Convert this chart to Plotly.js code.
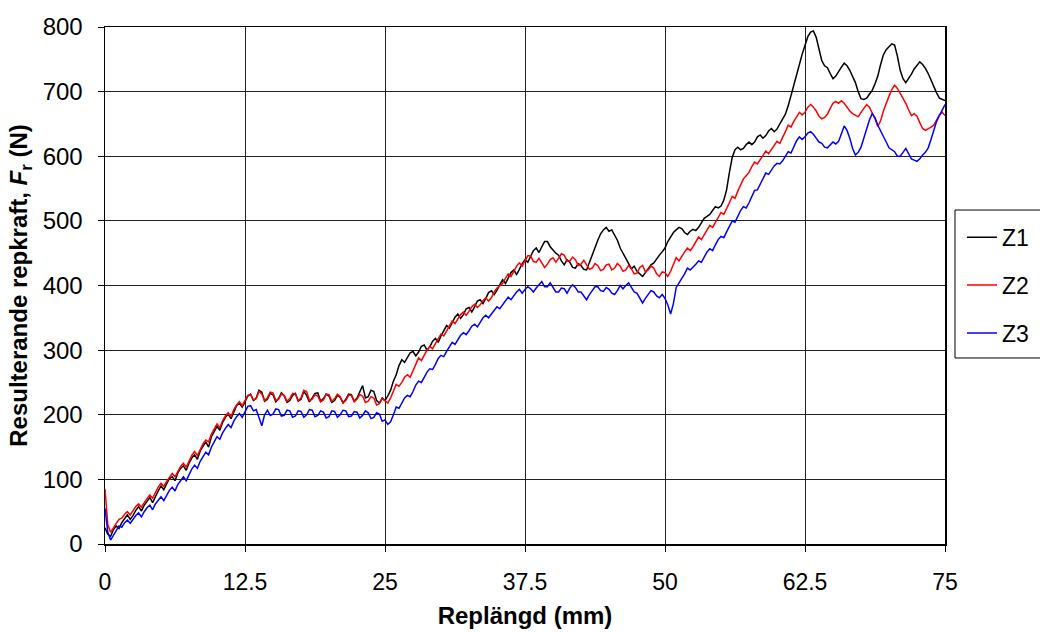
<!DOCTYPE html>
<html>
<head>
<meta charset="utf-8">
<script src="https://cdn.plot.ly/plotly-3.0.1.min.js"></script>
<style>html,body{margin:0;padding:0;background:#fff;}#chart{width:1040px;height:633px;}</style>
</head>
<body>
<div id="chart"></div>
<script>
// Replängd (mm), sample positions
const replangd = [
0,0.25,0.5,0.75,1,1.25,1.5,1.75,2,2.25,2.5,2.75,3,3.25,3.5,3.75,4,4.25,4.5,4.75,
5,5.25,5.5,5.75,6,6.25,6.5,6.75,7,7.25,7.5,7.75,8,8.25,8.5,8.75,9,9.25,9.5,9.75,
10,10.25,10.5,10.75,11,11.25,11.5,11.75,12,12.25,12.5,12.75,13,13.25,13.5,13.75,14,14.25,14.5,14.75,
15,15.25,15.5,15.75,16,16.25,16.5,16.75,17,17.25,17.5,17.75,18,18.25,18.5,18.75,19,19.25,19.5,19.75,
20,20.25,20.5,20.75,21,21.25,21.5,21.75,22,22.25,22.5,22.75,23,23.25,23.5,23.75,24,24.25,24.5,24.75,
25,25.25,25.5,25.75,26,26.25,26.5,26.75,27,27.25,27.5,27.75,28,28.25,28.5,28.75,29,29.25,29.5,29.75,
30,30.25,30.5,30.75,31,31.25,31.5,31.75,32,32.25,32.5,32.75,33,33.25,33.5,33.75,34,34.25,34.5,34.75,
35,35.25,35.5,35.75,36,36.25,36.5,36.75,37,37.25,37.5,37.75,38,38.25,38.5,38.75,39,39.25,39.5,39.75,
40,40.25,40.5,40.75,41,41.25,41.5,41.75,42,42.25,42.5,42.75,43,43.25,43.5,43.75,44,44.25,44.5,44.75,
45,45.25,45.5,45.75,46,46.25,46.5,46.75,47,47.25,47.5,47.75,48,48.25,48.5,48.75,49,49.25,49.5,49.75,
50,50.25,50.5,50.75,51,51.25,51.5,51.75,52,52.25,52.5,52.75,53,53.25,53.5,53.75,54,54.25,54.5,54.75,
55,55.25,55.5,55.75,56,56.25,56.5,56.75,57,57.25,57.5,57.75,58,58.25,58.5,58.75,59,59.25,59.5,59.75,
60,60.25,60.5,60.75,61,61.25,61.5,61.75,62,62.25,62.5,62.75,63,63.25,63.5,63.75,64,64.25,64.5,64.75,
65,65.25,65.5,65.75,66,66.25,66.5,66.75,67,67.25,67.5,67.75,68,68.25,68.5,68.75,69,69.25,69.5,69.75,
70,70.25,70.5,70.75,71,71.25,71.5,71.75,72,72.25,72.5,72.75,73,73.25,73.5,73.75,74,74.25,74.5,74.75,
75];

// Resulterande repkraft Fr (N)
const z1 = [
25,15,12,22,28,24,33,40,45,38,44,52,58,51,60,66,72,64,74,82,
90,84,93,101,104,98,110,117,121,114,125,133,138,131,144,152,158,150,166,174,
182,176,188,196,201,194,205,214,218,212,220,229,232,222,226,238,235,221,224,233,
231,220,225,234,229,219,222,230,233,221,224,236,230,220,226,233,234,221,225,232,
229,219,222,230,227,218,224,232,231,221,226,236,245,226,228,238,236,222,218,226,
222,229,238,252,262,276,285,281,288,296,298,291,297,306,308,300,305,314,318,312,
322,331,338,334,342,351,356,349,355,364,366,359,367,376,378,372,380,389,392,386,
393,402,409,403,411,420,424,417,425,434,440,436,445,454,458,451,460,468,468,460,
455,450,447,438,432,440,436,428,427,434,431,425,424,436,447,460,470,480,486,490,
484,486,479,470,458,450,441,432,426,430,422,418,414,420,427,432,435,442,447,452,
458,468,476,482,486,490,488,482,479,484,487,485,490,498,504,507,510,516,522,520,
523,532,548,575,598,610,614,610,612,618,622,618,622,630,633,628,632,639,643,638,
642,650,658,665,678,695,712,728,742,758,772,785,792,794,784,765,748,740,737,728,
720,724,732,738,744,740,733,724,714,700,689,688,690,696,702,712,724,742,757,765,
770,774,772,755,733,720,714,720,727,735,740,746,742,736,728,718,706,698,690,688,
686];

const z2 = [
85,30,18,26,32,38,40,46,50,45,52,58,62,57,64,70,76,71,80,88,
94,89,97,104,109,104,112,120,125,119,128,137,143,137,146,155,161,158,170,179,
186,180,191,198,203,197,208,215,220,214,221,230,231,223,225,236,232,222,226,235,
234,222,224,232,230,221,225,233,232,222,226,238,236,222,224,231,229,220,223,232,
231,221,225,232,228,219,222,230,230,220,224,231,229,219,221,228,226,215,217,225,
222,218,226,236,247,244,250,258,262,258,268,279,288,284,293,300,306,302,310,318,
325,322,330,338,345,341,348,355,359,354,360,367,371,366,370,377,381,376,381,390,
396,399,403,411,418,414,423,430,435,430,438,446,446,437,436,442,435,428,433,440,
443,436,442,449,447,438,438,444,440,431,433,439,432,425,427,434,431,423,425,432,
433,424,427,434,430,422,424,431,426,418,419,428,431,421,424,430,427,418,414,421,
420,414,422,432,443,438,446,452,458,454,460,468,475,471,478,486,493,490,498,506,
513,510,518,528,538,535,546,556,565,570,575,584,591,588,595,602,608,604,611,618,
623,620,628,638,648,645,654,662,668,664,668,676,680,676,670,662,658,660,665,674,
682,685,682,686,682,676,670,666,664,661,668,675,680,676,668,658,646,655,670,683,
693,703,710,705,698,690,682,672,663,666,662,652,643,640,642,645,648,656,664,668,
663];

const z3 = [
55,18,6,14,22,28,26,33,37,32,38,44,48,42,50,56,60,53,62,68,
73,67,76,83,88,82,92,99,104,98,108,116,122,117,128,136,142,138,150,158,
166,162,172,179,185,180,190,197,202,196,205,213,214,206,208,196,183,200,207,199,
201,209,208,198,199,207,206,196,198,206,205,196,200,208,207,197,199,206,204,195,
197,206,205,196,200,207,206,197,198,205,204,195,199,206,203,194,196,203,201,190,
192,185,189,200,212,210,218,226,230,228,236,246,252,250,258,266,271,270,278,287,
292,290,298,306,312,309,316,323,327,324,330,337,340,336,343,350,354,350,356,362,
367,364,370,377,382,378,384,390,394,388,394,398,395,390,396,401,406,398,398,404,
397,390,390,396,395,388,396,401,397,390,390,384,378,386,392,398,398,392,391,397,
394,388,386,392,400,395,400,404,397,390,388,380,373,380,387,392,390,384,381,386,
380,370,356,372,397,405,411,418,427,424,428,433,438,436,444,452,457,454,463,471,
476,474,483,492,500,498,508,516,522,520,528,538,547,548,556,566,574,572,578,585,
589,588,593,600,607,605,615,624,630,626,630,636,638,634,628,622,620,614,613,618,
622,619,623,635,647,640,628,612,602,606,614,628,642,656,666,660,648,640,632,622,
613,610,607,600,600,606,612,604,596,594,592,596,602,606,613,626,642,654,663,672,
680];

const seriesNames = ["Z1", "Z2", "Z3"];
const seriesColors = ["#000000", "#ff0000", "#0000ff"];
const xTicks = [0, 12.5, 25, 37.5, 50, 62.5, 75];
const xTickText = ["0", "12.5", "25", "37.5", "50", "62.5", "75"];
const yTicks = [0, 100, 200, 300, 400, 500, 600, 700, 800];

const ys = [z1, z2, z3];
const traces = ys.map((y, i) => ({
  x: replangd, y: y, type: "scatter", mode: "lines",
  name: seriesNames[i], legendgroup: "g" + i,
  line: {color: seriesColors[i], width: 1.5}
}));

const arial = '"Liberation Sans", Arial, sans-serif';

const layout = {
  width: 1040, height: 633,
  margin: {l: 105, r: 95, t: 27, b: 89, autoexpand: false},
  paper_bgcolor: "#fff", plot_bgcolor: "#fff",
  showlegend: true,
  legend: {
    x: 1.0202, y: 0.635, xanchor: "left", yanchor: "top",
    borderwidth: 0, bgcolor: "rgba(0,0,0,0)",
    font: {family: arial, size: 23, color: "#000"},
    traceorder: "grouped", tracegroupgap: 15, itemwidth: 30
  },
  shapes: [{
    type: "rect", xref: "paper", yref: "paper",
    x0: 1.0119, x1: 1.125, y0: 0.3598, y1: 0.646,
    line: {color: "#000", width: 1}, fillcolor: "rgba(0,0,0,0)", layer: "below"
  }],
  xaxis: {
    range: [0, 75], tickvals: xTicks, ticktext: xTickText,
    ticks: "outside", ticklen: 6, tickcolor: "#000", ticklabelstandoff: 11,
    showline: true, linecolor: "#000", linewidth: 1.5, mirror: true,
    showgrid: true, gridcolor: "#222", gridwidth: 1, zeroline: false,
    tickfont: {family: arial, size: 23, color: "#000"},
    title: {text: "<b>Replängd (mm)</b>", font: {family: arial, size: 24, color: "#000"}, standoff: 13}
  },
  yaxis: {
    range: [0, 800], tickvals: yTicks,
    ticks: "outside", ticklen: 6, tickcolor: "#000", ticklabelstandoff: 10,
    showline: true, linecolor: "#000", linewidth: 1.5, mirror: true,
    showgrid: true, gridcolor: "#222", gridwidth: 1, zeroline: false,
    tickfont: {family: arial, size: 24, color: "#000"},
    title: {text: "<b>Resulterande repkraft, <i>F</i><sub>r</sub> (N)</b>", font: {family: arial, size: 24, color: "#000"}, standoff: 8}
  }
};

Plotly.newPlot("chart", traces, layout, {displayModeBar: false, staticPlot: true});
</script>
</body>
</html>
